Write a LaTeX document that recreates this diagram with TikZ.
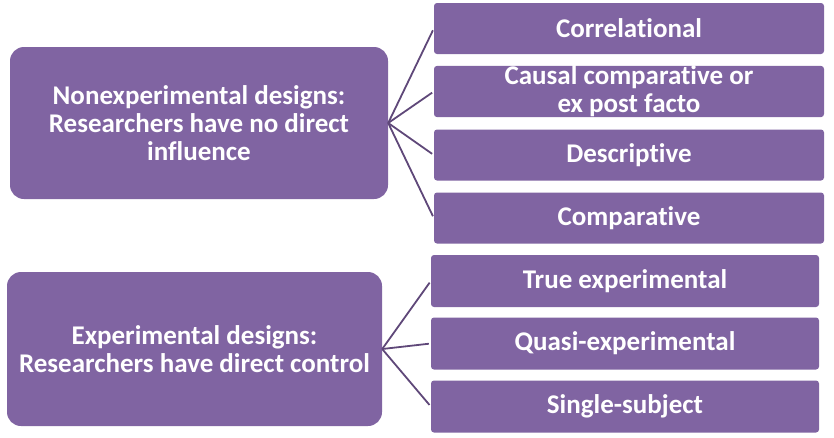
\documentclass[tikz,border=0pt]{standalone}
\usepackage{fontspec}
\setmainfont[RawFeature={-liga;-clig;-dlig;-calt;-rlig}]{Carlito}
\definecolor{boxpurple}{HTML}{8064A2}
\definecolor{linepurple}{HTML}{5F4879}
\tikzset{
    group/.style={fill=boxpurple, rounded corners=14pt, align=center, text=white,
        font=\bfseries\fontsize{27}{28}\selectfont, inner sep=0pt},
    design/.style={fill=boxpurple, rounded corners=3pt, align=center, text=white,
        font=\bfseries\fontsize{27}{28}\selectfont, inner sep=0pt},
    branch/.style={linepurple, line width=1.8pt, shorten >=2pt}
}
\begin{document}
\begin{tikzpicture}[x=1pt, y=-1pt]
    \useasboundingbox (0, 0) rectangle (834, 437);

    % Left boxes
    \node[group, minimum width=378pt, minimum height=152pt] (nonexp) at (199, 123)
        {Nonexperimental designs:\\Researchers have no direct\\influence};
    \node[group, minimum width=375pt, minimum height=154pt] (exp) at (194.5, 349)
        {Experimental designs:\\Researchers have direct control};

    % Nonexperimental designs
    \foreach \name/\y/\label in {corr/28.5/Correlational,
            causal/91.5/{Causal comparative or\\ex post facto},
            descr/155/Descriptive, comp/218/Comparative} {
        \node[design, minimum width=390pt, minimum height=51pt] (\name) at (629, \y) {\label};
        \draw[branch] (nonexp.east) -- (\name.west);
    }

    % Experimental designs
    \foreach \name/\y/\label in {trueexp/281/True experimental,
            quasi/343.5/Quasi-experimental, single/406.5/Single-subject} {
        \node[design, minimum width=388pt, minimum height=52pt] (\name) at (625, \y) {\label};
        \draw[branch] (exp.east) -- (\name.west);
    }
\end{tikzpicture}
\end{document}
